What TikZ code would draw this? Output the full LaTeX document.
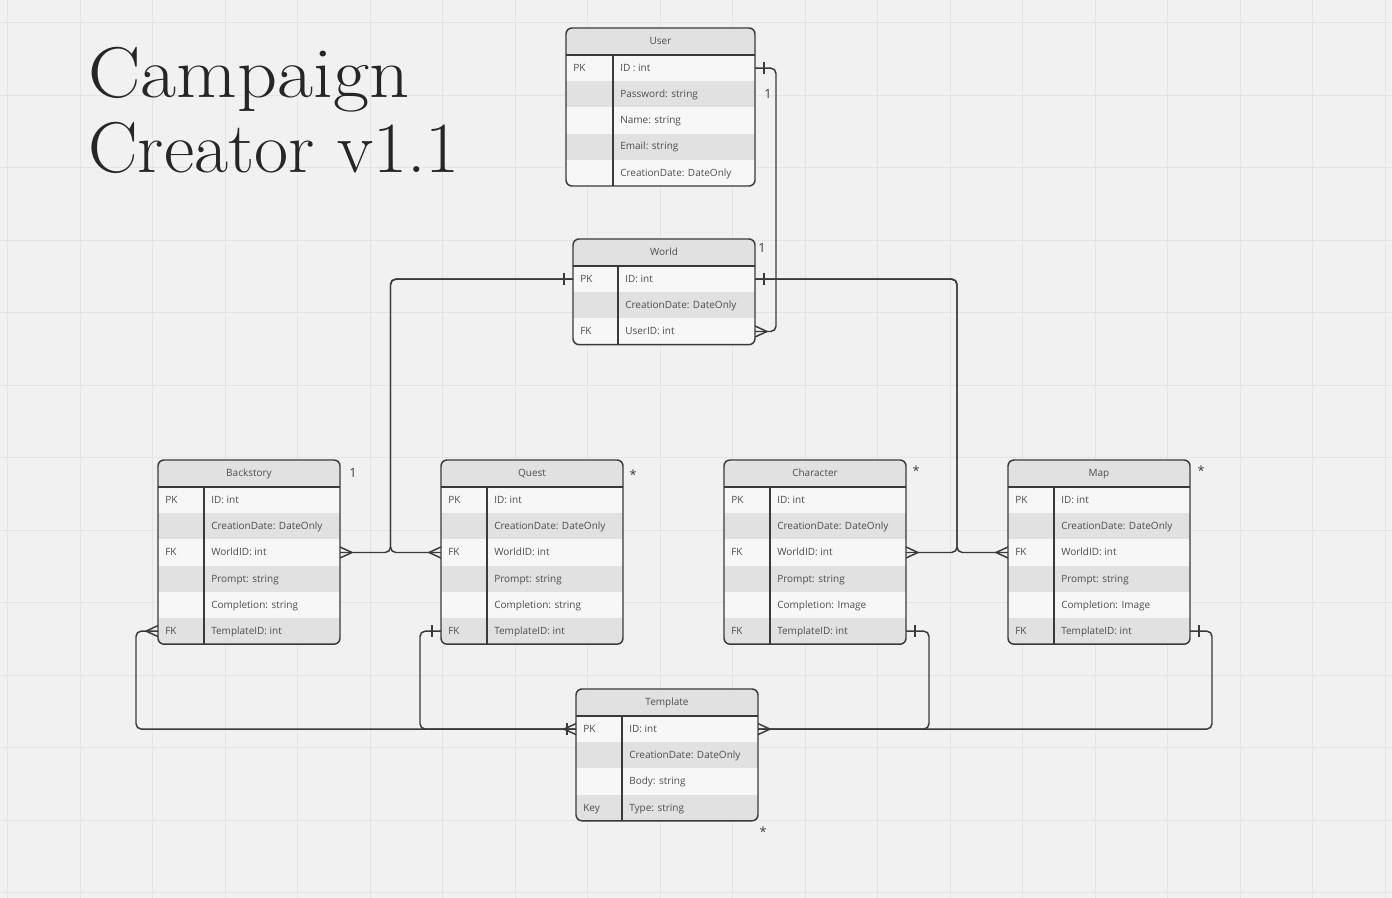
\documentclass[tikz,border=0pt]{standalone}
\usepackage{fontspec}
\newfontfamily\uifont{Open Sans}
\usetikzlibrary{calc}
\definecolor{bg}{HTML}{F1F1F1}
\definecolor{gridc}{HTML}{E4E4E4}
\definecolor{rowa}{HTML}{F7F7F7}
\definecolor{rowb}{HTML}{E1E1E1}
\definecolor{hdr}{HTML}{E1E1E1}
\definecolor{ink}{HTML}{3A3A3A}
\definecolor{txt}{HTML}{4D4D4D}
\definecolor{titlec}{HTML}{262626}
\tikzset{
 frame/.style={draw=ink, line width=1.1pt, rounded corners=4.5pt},
 sep/.style={draw=ink, line width=0.9pt},
 conn/.style={draw=ink, line width=1.1pt, rounded corners=4pt},
 endmark/.style={draw=ink, line width=1.1pt},
 celltext/.style={font=\uifont\fontsize{7.5}{8}\selectfont, text=txt, anchor=base west, inner sep=0pt},
 headtext/.style={font=\uifont\fontsize{7.5}{8}\selectfont, text=txt, anchor=base, inner sep=0pt},
 mult/.style={font=\uifont\fontsize{9.5}{10}\selectfont, text=ink, inner sep=0pt},
 gridline/.style={draw=gridc, line width=0.6pt},
 titletext/.style={font=\fontsize{54}{60}\selectfont, text=titlec, anchor=base west, inner sep=0pt},
}
% name, x1, x2, y1, xdiv, nrows, title, rows
\newcommand\ertable[8]{%
 \pgfmathsetmacro\tyb{#4+27+#6*26.2}
 \begin{scope}
  \clip[rounded corners=4.5pt] (#2,#4) rectangle (#3,\tyb);
  \fill[hdr] (#2,#4) rectangle (#3,#4+27);
  \foreach \k/\f [count=\i] in {#8} {
    \pgfmathsetmacro\yt{#4+27+(\i-1)*26.2}
    \ifodd\i \fill[rowa] (#2,\yt) rectangle (#3,\yt+26.2);
    \else \fill[rowb] (#2,\yt) rectangle (#3,\yt+26.2); \fi
  }
 \end{scope}
 \foreach \k/\f [count=\i] in {#8} {
   \pgfmathsetmacro\ym{#4+27+(\i-0.5)*26.2}
   \coordinate (#1-\i-w) at (#2,\ym);
   \coordinate (#1-\i-e) at (#3,\ym);
   \node[celltext] (#1-\i-key) at (#2+7,\ym+3.3) {\k};
   \node[celltext] (#1-\i-field) at (#5+7,\ym+3.3) {\f};
 }
 \draw[sep] (#2,#4+27) -- (#3,#4+27);
 \draw[sep] (#5,#4+27) -- (#5,\tyb);
 \draw[frame] (#2,#4) rectangle (#3,\tyb);
 \node[headtext] (#1-head) at ({(#2+#3)/2},#4+16.8) {#7};
}
\newcommand\crowR[1]{\draw[endmark] ($(#1)+(12,0)$) -- ($(#1)+(0,-5.5)$) ($(#1)+(12,0)$) -- ($(#1)+(0,5.5)$);}
\newcommand\crowL[1]{\draw[endmark] ($(#1)+(-12,0)$) -- ($(#1)+(0,-5.5)$) ($(#1)+(-12,0)$) -- ($(#1)+(0,5.5)$);}
\newcommand\barR[1]{\draw[endmark] ($(#1)+(9,-6)$) -- ($(#1)+(9,6)$);}
\newcommand\barL[1]{\draw[endmark] ($(#1)+(-9,-6)$) -- ($(#1)+(-9,6)$);}
\begin{document}
\begin{tikzpicture}[x=0.75pt,y=-0.75pt]
\useasboundingbox (0,0) rectangle (1392,898);
\fill[bg] (0,0) rectangle (1392,898);
\foreach \g in {0,...,19} \draw[gridline] (7.7+72.5*\g,0) -- (7.7+72.5*\g,898);
\foreach \g in {0,...,12} \draw[gridline] (0,22.5+72.5*\g) -- (1392,22.5+72.5*\g);

\node[titletext] (title1) at (88,98) {\scalebox{1.09}[1]{Campaign}};
\node[titletext] (title2) at (88,173) {\scalebox{1.03}[1]{Creator v1.1}};

\ertable{user}{566}{755}{28}{613}{5}{User}{PK/ID : int, {}/Password: string, {}/Name: string, {}/Email: string, {}/CreationDate: DateOnly}
\ertable{world}{573}{755}{239}{618}{3}{World}{PK/ID: int, {}/CreationDate: DateOnly, FK/UserID: int}
\ertable{backstory}{158}{340}{460}{204}{6}{Backstory}{PK/ID: int, {}/CreationDate: DateOnly, FK/WorldID: int, {}/Prompt: string, {}/Completion: string, FK/TemplateID: int}
\ertable{quest}{441}{623}{460}{487}{6}{Quest}{PK/ID: int, {}/CreationDate: DateOnly, FK/WorldID: int, {}/Prompt: string, {}/Completion: string, FK/TemplateID: int}
\ertable{character}{724}{906}{460}{770}{6}{Character}{PK/ID: int, {}/CreationDate: DateOnly, FK/WorldID: int, {}/Prompt: string, {}/Completion: Image, FK/TemplateID: int}
\ertable{map}{1008}{1190}{460}{1054}{6}{Map}{PK/ID: int, {}/CreationDate: DateOnly, FK/WorldID: int, {}/Prompt: string, {}/Completion: Image, FK/TemplateID: int}
\ertable{template}{576}{758}{689}{622}{4}{Template}{PK/ID: int, {}/CreationDate: DateOnly, {}/Body: string, Key/Type: string}

\coordinate (jWB) at ($(backstory-3-e)!0.5!(quest-3-w)$);
\coordinate (jWC) at ($(character-3-e)!0.5!(map-3-w)$);

\draw[conn] (user-1-e) -- ++(21,0) |- (world-3-e);
\draw[conn] (world-1-w) -| (jWB) -- (backstory-3-e);
\draw[conn] (world-1-w) -| (jWB) -- (quest-3-w);
\draw[conn] (world-1-e) -| (jWC) -- (character-3-e);
\draw[conn] (world-1-e) -| (jWC) -- (map-3-w);
\draw[conn] (template-1-w) -- ++(-440,0) |- (backstory-6-w);
\draw[conn] (template-1-w) -- ++(-156,0) |- (quest-6-w);
\draw[conn] (template-1-e) -- ++(171,0) |- (character-6-e);
\draw[conn] (template-1-e) -- ++(454,0) |- (map-6-e);

\barR{user-1-e}
\crowR{world-3-e}
\barL{world-1-w}
\barR{world-1-e}
\crowR{backstory-3-e}
\crowL{quest-3-w}
\crowR{character-3-e}
\crowL{map-3-w}
\crowL{backstory-6-w}
\barL{quest-6-w}
\barR{character-6-e}
\barR{map-6-e}
\barL{template-1-w}
\crowL{template-1-w}
\crowR{template-1-e}

\node[mult] (m1) at (768,94) {1};
\node[mult] (m2) at (762,248) {1};
\node[mult] (m3) at (353,473) {1};
\node[mult] (m4) at (633,475) {*};
\node[mult] (m5) at (916,471) {*};
\node[mult] (m6) at (1201,471) {*};
\node[mult] (m7) at (763,832) {*};
\end{tikzpicture}
\end{document}
